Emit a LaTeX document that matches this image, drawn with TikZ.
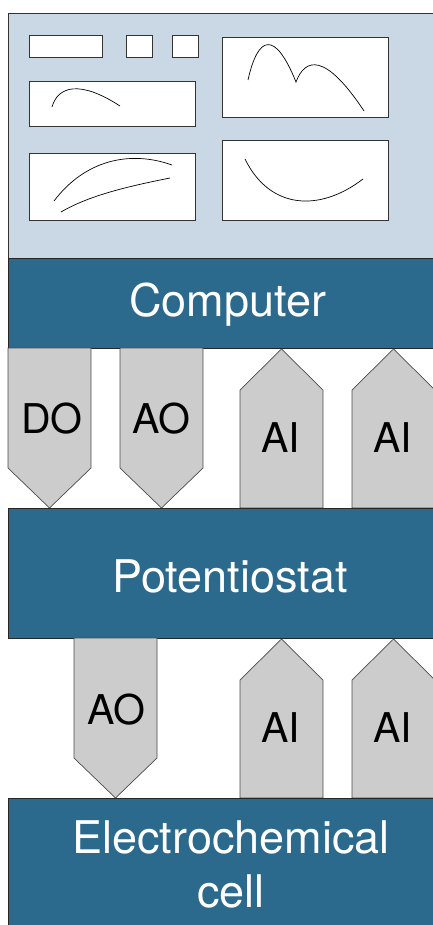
\documentclass[tikz,border=0pt]{standalone}
\usepackage{fontspec}
\setmainfont{TeX Gyre Heros}

\definecolor{panelblue}{HTML}{CAD7E4}
\definecolor{blockblue}{HTML}{2B6A8C}
\definecolor{pingray}{HTML}{CCCCCC}

\tikzset{
  panel/.style={draw=black!80, fill=panelblue, line width=0.8pt},
  block/.style={draw=black!85, fill=blockblue, line width=0.8pt},
  blocklabel/.style={text=white, font=\fontsize{45}{54}\selectfont, align=center, inner sep=0pt},
  pin/.style={draw=black!70, fill=pingray, line width=0.7pt},
  pinlabel/.style={font=\fontsize{41}{48}\selectfont, inner sep=0pt},
  plotbox/.style={draw=black!80, fill=white, line width=0.8pt},
  trace/.style={line width=0.7pt}
}

% output channel: points down, #1 = left x, #2 = top, #3 = tip
\newcommand{\outpin}[3]{%
  \draw[pin] (#1,#2) -- (#1+83,#2) -- (#1+83,#3-40) -- (#1+41.5,#3) -- (#1,#3-40) -- cycle;}
% input channel: points up, #1 = left x, #2 = tip, #3 = bottom
\newcommand{\inpin}[3]{%
  \draw[pin] (#1,#3) -- (#1,#2+41) -- (#1+41.5,#2) -- (#1+83,#2+41) -- (#1+83,#3) -- cycle;}

\begin{document}
\begin{tikzpicture}[x=1pt, y=-1pt]
  \useasboundingbox (0,0) rectangle (433,925);
  \clip (0,0) rectangle (433,925);

  % screen with the plots
  \draw[panel] (8,13) rectangle (452,258);
  \draw[plotbox] (29,35) rectangle (102,57);
  \draw[plotbox] (126,35) rectangle (152,57);
  \draw[plotbox] (172,35) rectangle (198,57);
  \draw[plotbox] (29,81) rectangle (195,126);
  \draw[trace] (52,107) .. controls (58,86) and (80,80) .. (120,106);
  \draw[plotbox] (29,153) rectangle (195,220);
  \draw[trace] (54,201) .. controls (85,160) and (130,150) .. (172,165);
  \draw[trace] (61,212) .. controls (90,195) and (130,186) .. (170,178);
  \draw[plotbox] (222,37) rectangle (388,117);
  \draw[trace] (248,80) .. controls (258,35) and (275,30) .. (296,82)
                       .. controls (305,58) and (325,52) .. (364,111);
  \draw[plotbox] (222,140) rectangle (388,220);
  \draw[trace] (245,159) .. controls (270,210) and (320,212) .. (363,179);

  % computer
  \draw[block] (8,258) rectangle (452,348);
  \node[blocklabel, anchor=base] (computer) at (228,316) {Computer};

  % channels between computer and potentiostat
  \outpin{8}{348}{508}
  \outpin{120}{348}{508}
  \inpin{240}{349}{508}
  \inpin{352}{349}{508}
  \node[pinlabel, anchor=base] (do1) at (52,433) {DO};
  \node[pinlabel, anchor=base] (ao1) at (161,433) {AO};
  \node[pinlabel, anchor=base] (ai1) at (281,452) {AI};
  \node[pinlabel, anchor=base] (ai2) at (393,452) {AI};

  % potentiostat
  \draw[block] (8,508) rectangle (452,638);
  \node[blocklabel, anchor=base] (pstat) at (230,592) {Potentiostat};

  % channels between potentiostat and cell
  \outpin{74}{638}{798}
  \inpin{240}{639}{798}
  \inpin{352}{639}{798}
  \node[pinlabel, anchor=base] (ao2) at (116,724) {AO};
  \node[pinlabel, anchor=base] (ai3) at (281,742) {AI};
  \node[pinlabel, anchor=base] (ai4) at (393,742) {AI};

  % electrochemical cell
  \draw[block] (8,798) rectangle (452,960);
  \node[blocklabel, anchor=base] (cell) at (231,907) {Electrochemical\\cell};
\end{tikzpicture}
\end{document}
